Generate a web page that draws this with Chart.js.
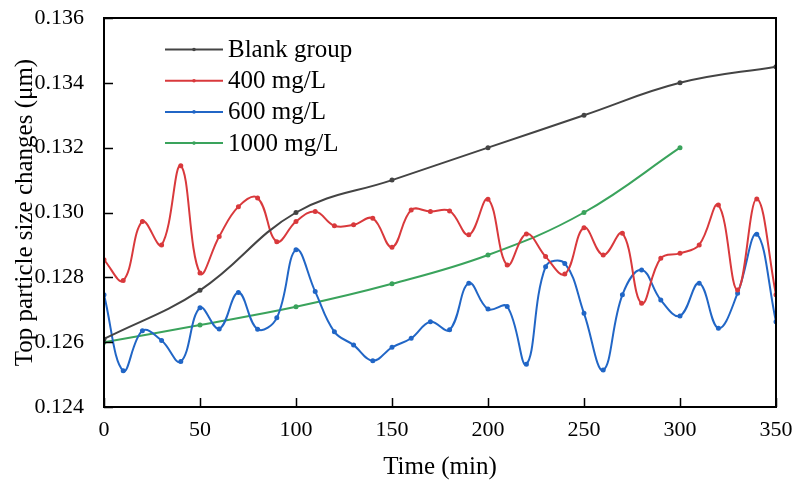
<!DOCTYPE html>
<html>
<head>
<meta charset="utf-8">
<script src="https://cdn.jsdelivr.net/npm/chart.js@4"></script>
<style>
  html, body { margin: 0; padding: 0; background: #fff; }
  #wrap { width: 796px; height: 485px; }
</style>
</head>
<body>
<div id="wrap"><canvas id="grafico"></canvas></div>
<script>
// dados
const tempoCurto = [0, 50, 100, 150, 200, 250, 300, 350];
const tempoLongo = [0, 10, 20, 30, 40, 50, 60, 70, 80, 90, 100, 110, 120, 130, 140, 150, 160, 170,
    180, 190, 200, 210, 220, 230, 240, 250, 260, 270, 280, 290, 300, 310, 320, 330, 340, 350];
const tempo1000 = [0, 50, 100, 150, 200, 250, 300];

const blank = [0.1261, 0.1276, 0.1300, 0.1310, 0.1320, 0.1330, 0.1340, 0.1345];
const mg400 = [0.12854, 0.1279, 0.12972, 0.1290, 0.13144, 0.12813, 0.12926, 0.13018, 0.13045, 0.1291,
    0.12972, 0.13003, 0.12959, 0.12962, 0.12982, 0.12893, 0.13008, 0.13003, 0.13005, 0.12931,
    0.13041, 0.12838, 0.12934, 0.12864, 0.1281, 0.12953, 0.12869, 0.12936, 0.1272, 0.12859,
    0.12874, 0.1290, 0.13023, 0.12761, 0.13042, 0.12746];
const mg600 = [0.12746, 0.12512, 0.12635, 0.12605, 0.1254, 0.12706, 0.12641, 0.12753, 0.1264, 0.12675,
    0.12885, 0.12756, 0.12632, 0.12591, 0.12543, 0.12584, 0.12612, 0.12663, 0.12638, 0.12782,
    0.12702, 0.1271, 0.12532, 0.12833, 0.12843, 0.12689, 0.12514, 0.12746, 0.12823, 0.1273,
    0.12681, 0.12782, 0.12643, 0.12751, 0.12933, 0.12663];
const mg1000 = [0.1260, 0.12653, 0.12709, 0.1278, 0.12869, 0.1300, 0.1320];

const xTicks = [0, 50, 100, 150, 200, 250, 300, 350];
const yTicks = [0.124, 0.126, 0.128, 0.130, 0.132, 0.134, 0.136];

const fonte = '"Liberation Serif", "Times New Roman", serif';

function pontos(xs, ys) {
    return xs.map((x, i) => ({ x: x, y: ys[i] }));
}

function serie(label, xs, ys, cor) {
    return {
        label: label,
        data: pontos(xs, ys),
        borderColor: cor,
        backgroundColor: cor,
        borderWidth: 2,
        pointRadius: 1.5,
        pointHoverRadius: 1.5,
        tension: 0.4
    };
}

// moldura, ticks para dentro e legenda dentro da área
const moldura = {
    id: 'moldura',
    afterDraw(chart) {
        const ctx = chart.ctx;
        const a = chart.chartArea;
        const sx = chart.scales.x, sy = chart.scales.y;
        ctx.save();
        ctx.strokeStyle = '#000';
        ctx.lineWidth = 2;
        ctx.strokeRect(a.left, a.top, a.right - a.left, a.bottom - a.top);
        ctx.lineWidth = 1.5;
        ctx.beginPath();
        xTicks.forEach(v => {
            const px = Math.round(sx.getPixelForValue(v)) + 0.5;
            ctx.moveTo(px, a.bottom);
            ctx.lineTo(px, a.bottom - 9);
        });
        yTicks.forEach(v => {
            const py = Math.round(sy.getPixelForValue(v)) + 0.5;
            ctx.moveTo(a.left, py);
            ctx.lineTo(a.left + 9, py);
        });
        ctx.stroke();

        // legenda
        ctx.font = '25px ' + fonte;
        ctx.textBaseline = 'middle';
        chart.data.datasets.forEach((ds, i) => {
            const y = 49.5 + i * 31.2;
            ctx.strokeStyle = ds.borderColor;
            ctx.lineWidth = 2;
            ctx.beginPath();
            ctx.moveTo(165, y);
            ctx.lineTo(223, y);
            ctx.stroke();
            ctx.fillStyle = ds.borderColor;
            ctx.beginPath();
            ctx.arc(194, y, 1.8, 0, Math.PI * 2);
            ctx.fill();
            ctx.fillStyle = '#000';
            ctx.fillText(ds.label, 228, y + 1);
        });
        ctx.restore();
    }
};

new Chart(document.getElementById('grafico'), {
    type: 'line',
    data: {
        datasets: [
            serie('Blank group', tempoCurto, blank, '#444444'),
            serie('400 mg/L', tempoLongo, mg400, '#d9393c'),
            serie('600 mg/L', tempoLongo, mg600, '#2166c6'),
            serie('1000 mg/L', tempo1000, mg1000, '#3aa35c')
        ]
    },
    options: {
        responsive: true,
        maintainAspectRatio: false,
        animation: false,
        layout: { padding: { top: 18, right: 20, left: 0, bottom: 0 } },
        plugins: {
            legend: { display: false },
            tooltip: { enabled: false }
        },
        scales: {
            x: {
                type: 'linear',
                min: 0,
                max: 350,
                afterBuildTicks: s => { s.ticks = xTicks.map(v => ({ value: v })); },
                afterFit: s => { s.height = 78; s.paddingLeft = 0; s.paddingRight = 0; },
                grid: { display: false },
                border: { display: false },
                ticks: {
                    color: '#000',
                    font: { family: fonte, size: 22 },
                    padding: 2,
                    maxRotation: 0
                },
                title: {
                    display: true,
                    text: 'Time (min)',
                    color: '#000',
                    font: { family: fonte, size: 25 },
                    padding: { top: 0, bottom: 3 }
                }
            },
            y: {
                type: 'linear',
                min: 0.124,
                max: 0.136,
                afterBuildTicks: s => { s.ticks = yTicks.map(v => ({ value: v })); },
                afterFit: s => { s.width = 104; s.paddingTop = 0; s.paddingBottom = 0; },
                grid: { display: false },
                border: { display: false },
                ticks: {
                    color: '#000',
                    font: { family: fonte, size: 22 },
                    padding: 12,
                    callback: v => v.toFixed(3)
                },
                title: {
                    display: true,
                    text: 'Top particle size changes (μm)',
                    color: '#000',
                    font: { family: fonte, size: 25 },
                    padding: { top: 10, bottom: 0 }
                }
            }
        }
    },
    plugins: [moldura]
});
</script>
</body>
</html>
